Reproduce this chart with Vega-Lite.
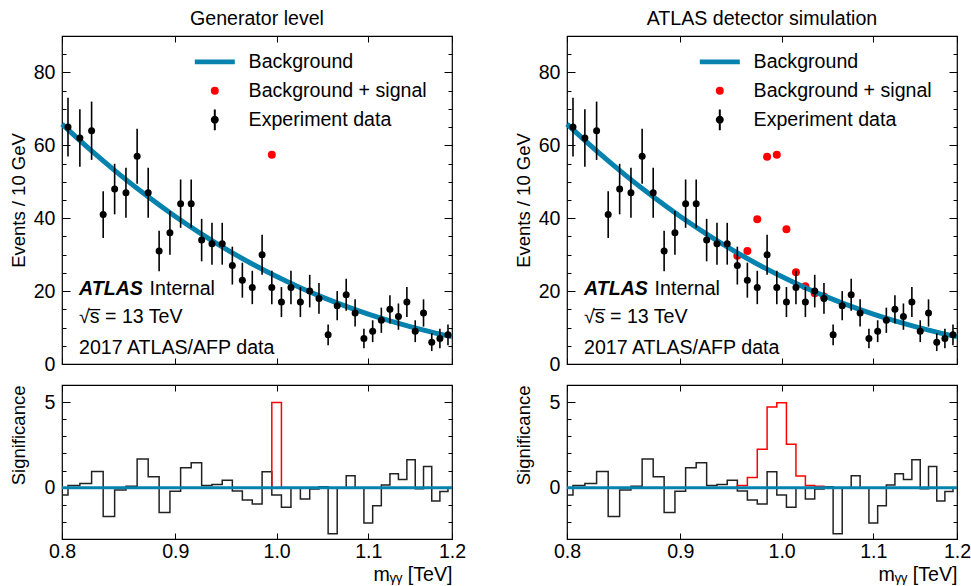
{
  "$schema": "https://vega.github.io/schema/vega-lite/v6.json",
  "padding": {"left": 8, "top": 8, "right": 0, "bottom": 2},
  "background": "white",
  "config": {
    "font": "Liberation Sans",
    "view": {"stroke": "black", "strokeWidth": 1.2},
    "axis": {"labelFontSize": 19.6, "titleFontSize": 18.5, "labelColor": "black", "titleColor": "black", "tickColor": "black", "tickWidth": 1, "domain": false, "grid": false, "titleFontWeight": "normal", "labelFlush": false, "labelOverlap": false, "labelBound": false},
    "title": {"fontSize": 19.6, "fontWeight": "normal", "color": "black", "offset": 6},
    "legend": {"labelFontSize": 19.6, "labelColor": "black", "labelFont": "Liberation Sans", "labelLimit": 400}
  },
  "datasets": {
    "obs": [
      {"x": 0.805, "n": 65, "err": 8.06, "series": "Experiment data"},
      {"x": 0.815, "n": 62, "err": 7.87, "series": "Experiment data"},
      {"x": 0.825, "n": 64, "err": 8.0, "series": "Experiment data"},
      {"x": 0.835, "n": 41, "err": 6.4, "series": "Experiment data"},
      {"x": 0.845, "n": 48, "err": 6.93, "series": "Experiment data"},
      {"x": 0.855, "n": 47, "err": 6.86, "series": "Experiment data"},
      {"x": 0.865, "n": 57, "err": 7.55, "series": "Experiment data"},
      {"x": 0.875, "n": 47, "err": 6.86, "series": "Experiment data"},
      {"x": 0.885, "n": 31, "err": 5.57, "series": "Experiment data"},
      {"x": 0.895, "n": 36, "err": 6.0, "series": "Experiment data"},
      {"x": 0.905, "n": 44, "err": 6.63, "series": "Experiment data"},
      {"x": 0.915, "n": 44, "err": 6.63, "series": "Experiment data"},
      {"x": 0.925, "n": 34, "err": 5.83, "series": "Experiment data"},
      {"x": 0.935, "n": 33, "err": 5.74, "series": "Experiment data"},
      {"x": 0.945, "n": 33, "err": 5.74, "series": "Experiment data"},
      {"x": 0.955, "n": 27, "err": 5.2, "series": "Experiment data"},
      {"x": 0.965, "n": 23, "err": 4.8, "series": "Experiment data"},
      {"x": 0.975, "n": 21, "err": 4.58, "series": "Experiment data"},
      {"x": 0.985, "n": 30, "err": 5.48, "series": "Experiment data"},
      {"x": 0.995, "n": 21, "err": 4.58, "series": "Experiment data"},
      {"x": 1.005, "n": 17, "err": 4.12, "series": "Experiment data"},
      {"x": 1.015, "n": 21, "err": 4.58, "series": "Experiment data"},
      {"x": 1.025, "n": 17, "err": 4.12, "series": "Experiment data"},
      {"x": 1.035, "n": 20, "err": 4.47, "series": "Experiment data"},
      {"x": 1.045, "n": 18, "err": 4.24, "series": "Experiment data"},
      {"x": 1.055, "n": 8, "err": 2.83, "series": "Experiment data"},
      {"x": 1.065, "n": 16, "err": 4.0, "series": "Experiment data"},
      {"x": 1.075, "n": 19, "err": 4.36, "series": "Experiment data"},
      {"x": 1.085, "n": 14, "err": 3.74, "series": "Experiment data"},
      {"x": 1.095, "n": 7, "err": 2.65, "series": "Experiment data"},
      {"x": 1.105, "n": 9, "err": 3.0, "series": "Experiment data"},
      {"x": 1.115, "n": 12, "err": 3.46, "series": "Experiment data"},
      {"x": 1.125, "n": 15, "err": 3.87, "series": "Experiment data"},
      {"x": 1.135, "n": 13, "err": 3.61, "series": "Experiment data"},
      {"x": 1.145, "n": 17, "err": 4.12, "series": "Experiment data"},
      {"x": 1.155, "n": 9, "err": 3.0, "series": "Experiment data"},
      {"x": 1.165, "n": 14, "err": 3.74, "series": "Experiment data"},
      {"x": 1.175, "n": 6, "err": 2.45, "series": "Experiment data"},
      {"x": 1.185, "n": 7, "err": 2.65, "series": "Experiment data"},
      {"x": 1.195, "n": 8, "err": 2.83, "series": "Experiment data"}
    ],
    "bkg": [
      {"x": 0.8, "n": 65.8}, {"x": 0.825, "n": 58.45}, {"x": 0.85, "n": 51.84}, {"x": 0.875, "n": 45.87},
      {"x": 0.9, "n": 40.48}, {"x": 0.925, "n": 35.65}, {"x": 0.95, "n": 31.31}, {"x": 0.975, "n": 27.44},
      {"x": 1.0, "n": 23.99}, {"x": 1.025, "n": 20.92}, {"x": 1.05, "n": 18.2}, {"x": 1.075, "n": 15.8},
      {"x": 1.1, "n": 13.68}, {"x": 1.125, "n": 11.82}, {"x": 1.15, "n": 10.19}, {"x": 1.175, "n": 8.76},
      {"x": 1.2, "n": 7.51}
    ],
    "redL": [
      {"x": 0.995, "n": 57.4, "series": "Background + signal"}
    ],
    "redR": [
      {"x": 0.955, "n": 29.7, "series": "Background + signal"},
      {"x": 0.965, "n": 31.0, "series": "Background + signal"},
      {"x": 0.975, "n": 39.7, "series": "Background + signal"},
      {"x": 0.985, "n": 56.9, "series": "Background + signal"},
      {"x": 0.995, "n": 57.4, "series": "Background + signal"},
      {"x": 1.005, "n": 37.0, "series": "Background + signal"},
      {"x": 1.015, "n": 25.2, "series": "Background + signal"},
      {"x": 1.025, "n": 21.3, "series": "Background + signal"},
      {"x": 1.035, "n": 19.4, "series": "Background + signal"},
      {"x": 1.045, "n": 18.5, "series": "Background + signal"}
    ],
    "sig": [
      {"x": 0.8, "s": -0.43}, {"x": 0.805, "s": 0.12}, {"x": 0.815, "s": 0.25}, {"x": 0.825, "s": 0.95},
      {"x": 0.835, "s": -1.69}, {"x": 0.845, "s": -0.14}, {"x": 0.855, "s": 0.08}, {"x": 0.865, "s": 1.67},
      {"x": 0.875, "s": 0.64}, {"x": 0.885, "s": -1.45}, {"x": 0.895, "s": -0.21}, {"x": 0.905, "s": 1.16},
      {"x": 0.915, "s": 1.45}, {"x": 0.925, "s": 0.12}, {"x": 0.935, "s": 0.19}, {"x": 0.945, "s": 0.43},
      {"x": 0.955, "s": -0.19}, {"x": 0.965, "s": -0.72}, {"x": 0.975, "s": -0.95}, {"x": 0.985, "s": 0.93},
      {"x": 0.995, "s": -0.43}, {"x": 1.005, "s": -1.14}, {"x": 1.015, "s": 0.0}, {"x": 1.025, "s": -0.66},
      {"x": 1.035, "s": -0.08}, {"x": 1.045, "s": 0.05}, {"x": 1.055, "s": -2.69}, {"x": 1.065, "s": 0.0},
      {"x": 1.075, "s": 0.7}, {"x": 1.085, "s": 0.0}, {"x": 1.095, "s": -2.07}, {"x": 1.105, "s": -1.05},
      {"x": 1.115, "s": 0.16}, {"x": 1.125, "s": 0.81}, {"x": 1.135, "s": 0.47}, {"x": 1.145, "s": 1.63},
      {"x": 1.155, "s": -0.06}, {"x": 1.165, "s": 1.24}, {"x": 1.175, "s": -0.78}, {"x": 1.185, "s": -0.23},
      {"x": 1.195, "s": 0.0}, {"x": 1.2, "s": 0.0}
    ],
    "sigRedL": [
      {"x": 0.985, "s": 0.0}, {"x": 0.995, "s": 4.98}, {"x": 1.005, "s": 0.0}, {"x": 1.015, "s": 0.0}
    ],
    "sigRedR": [
      {"x": 0.945, "s": 0.0}, {"x": 0.955, "s": 0.12}, {"x": 0.965, "s": 0.6}, {"x": 0.975, "s": 2.25},
      {"x": 0.985, "s": 4.71}, {"x": 0.995, "s": 4.96}, {"x": 1.005, "s": 2.54}, {"x": 1.015, "s": 0.68},
      {"x": 1.025, "s": 0.12}, {"x": 1.035, "s": 0.08}, {"x": 1.045, "s": 0.0}, {"x": 1.055, "s": 0.0}
    ],
    "one": [{}]
  },
  "spacing": 46,
  "resolve": {"scale": {"color": "independent", "shape": "independent"}, "legend": {"color": "independent", "shape": "independent"}},
  "hconcat": [
    {
      "spacing": 21,
      "bounds": "flush",
      "resolve": {"scale": {"color": "independent", "shape": "independent"}, "legend": {"color": "independent", "shape": "independent"}},
      "vconcat": [
        {
          "width": 390, "height": 328,
          "title": {"text": "Generator level"},
          "layer": [
            {
              "data": {"name": "redL"},
              "mark": {"type": "point", "filled": true, "size": 64, "opacity": 1},
              "encoding": {
                "x": {"field": "x", "type": "quantitative", "scale": {"type": "log", "domain": [0.8, 1.2], "nice": false, "zero": false},
                      "axis": {"orient": "bottom", "values": [0.8, 0.9, 1.0, 1.1, 1.2], "labels": false, "title": null, "tickSize": -6}},
                "y": {"field": "n", "type": "quantitative", "scale": {"domain": [0, 90], "nice": false},
                      "axis": {"orient": "left", "values": [0,5,10,15,20,25,30,35,40,45,50,55,60,65,70,75,80,85],
                               "labelExpr": "datum.value % 20 === 0 ? datum.label : ''",
                               "tickSize": {"condition": {"test": "datum.value % 20 === 0", "value": -8}, "value": -4},
                               "labelPadding": 15,
                               "title": "Events / 10 GeV", "titleX": -44, "titleBaseline": "middle"}},
                "color": {"field": "series", "type": "nominal",
                          "scale": {"domain": ["Background", "Background + signal", "Experiment data"], "range": ["#0582ad", "#ff0000", "#000000"]},
                          "legend": {"orient": "none", "legendX": 143, "legendY": 16, "title": null, "symbolSize": 64, "rowPadding": 8, "labelOffset": 24}},
                "shape": {"field": "series", "type": "nominal",
                          "scale": {"domain": ["Background", "Background + signal", "Experiment data"],
                                    "range": ["M-5,-0.6H5V0.6H-5Z", "circle", "M-0.25,-2.6H0.25V2.6H-0.25Z M1,0A1,1,0,1,1,-1,0A1,1,0,1,1,1,0Z"]},
                          "legend": {"orient": "none", "legendX": 143, "legendY": 16, "title": null, "symbolSize": 64, "rowPadding": 8, "labelOffset": 24}}
              }
            },
            {
              "data": {"name": "bkg"},
              "mark": {"type": "line", "color": "#0582ad", "strokeWidth": 5, "interpolate": "monotone"},
              "encoding": {
                "x": {"field": "x", "type": "quantitative", "axis": {"orient": "top", "values": [0.8, 0.9, 1.0, 1.1, 1.2], "labels": false, "title": null, "tickSize": -6}},
                "y": {"field": "n", "type": "quantitative", "axis": {"orient": "right", "values": [5,10,15,20,25,30,35,40,45,50,55,60,65,70,75,80,85], "labels": false, "title": null,
                      "tickSize": {"condition": {"test": "datum.value % 20 === 0", "value": -8}, "value": -4}}}
              }
            },
            {
              "data": {"name": "obs"},
              "mark": {"type": "errorbar", "color": "black", "thickness": 1.6},
              "encoding": {
                "x": {"field": "x", "type": "quantitative", "axis": null},
                "y": {"field": "n", "type": "quantitative", "axis": null},
                "yError": {"field": "err"}
              }
            },
            {
              "data": {"name": "obs"},
              "mark": {"type": "point", "filled": true, "size": 49, "opacity": 1, "shape": "circle"},
              "encoding": {
                "x": {"field": "x", "type": "quantitative", "axis": null},
                "y": {"field": "n", "type": "quantitative", "axis": null},
                "color": {"field": "series", "type": "nominal"}
              }
            },
            {
              "data": {"name": "one"},
              "mark": {"type": "text", "text": "ATLAS", "fontStyle": "italic", "fontWeight": "bold", "fontSize": 19.6, "align": "left", "baseline": "alphabetic", "color": "black"},
              "encoding": {"x": {"datum": 0.8143, "type": "quantitative", "axis": null}, "y": {"datum": 18.93, "type": "quantitative", "axis": null}}
            },
            {
              "data": {"name": "one"},
              "mark": {"type": "text", "text": "Internal", "fontSize": 19.6, "align": "left", "baseline": "alphabetic", "color": "black"},
              "encoding": {"x": {"datum": 0.8763, "type": "quantitative", "axis": null}, "y": {"datum": 18.93, "type": "quantitative", "axis": null}}
            },
            {
              "data": {"name": "one"},
              "mark": {"type": "text", "text": "√s̅ = 13 TeV", "fontSize": 19.6, "align": "left", "baseline": "alphabetic", "color": "black"},
              "encoding": {"x": {"datum": 0.8143, "type": "quantitative", "axis": null}, "y": {"datum": 11.33, "type": "quantitative", "axis": null}}
            },
            {
              "data": {"name": "one"},
              "mark": {"type": "text", "text": "2017 ATLAS/AFP data", "fontSize": 19.6, "align": "left", "baseline": "alphabetic", "color": "black"},
              "encoding": {"x": {"datum": 0.8143, "type": "quantitative", "axis": null}, "y": {"datum": 2.63, "type": "quantitative", "axis": null}}
            }
          ]
        },
        {
          "width": 390, "height": 154,
          "layer": [
            {
              "data": {"name": "sig"},
              "mark": {"type": "line", "color": "#222222", "strokeWidth": 1.5, "interpolate": "step-after"},
              "encoding": {
                "x": {"field": "x", "type": "quantitative", "scale": {"type": "log", "domain": [0.8, 1.2], "nice": false, "zero": false},
                      "axis": {"orient": "bottom", "values": [0.8, 0.9, 1.0, 1.1, 1.2], "format": ".1f", "tickSize": -6, "labelPadding": 9,
                               "title": "mᵧᵧ [TeV]", "titleAnchor": "end", "titleAlign": "right", "titleFontSize": 19.6, "titlePadding": 5}},
                "y": {"field": "s", "type": "quantitative", "scale": {"domain": [-3, 6], "nice": false, "zero": false},
                      "axis": {"orient": "left", "values": [-2,-1,0,1,2,3,4,5],
                               "labelExpr": "datum.value % 5 === 0 ? datum.label : ''",
                               "tickSize": {"condition": {"test": "datum.value % 5 === 0", "value": -8}, "value": -4},
                               "labelPadding": 15,
                               "title": "Significance", "titleX": -44, "titleBaseline": "middle", "titleAnchor": "end"}}
              }
            },
            {
              "data": {"name": "sigRedL"},
              "mark": {"type": "line", "color": "#ff0000", "strokeWidth": 1.5, "interpolate": "step-after"},
              "encoding": {
                "x": {"field": "x", "type": "quantitative", "axis": {"orient": "top", "values": [0.8, 0.9, 1.0, 1.1, 1.2], "labels": false, "title": null, "tickSize": -6}},
                "y": {"field": "s", "type": "quantitative", "axis": {"orient": "right", "values": [-2,-1,0,1,2,3,4,5], "labels": false, "title": null,
                      "tickSize": {"condition": {"test": "datum.value % 5 === 0", "value": -8}, "value": -4}}}
              }
            },
            {
              "data": {"name": "one"},
              "mark": {"type": "rule", "color": "#0582ad", "strokeWidth": 3},
              "encoding": {"y": {"datum": 0, "type": "quantitative", "axis": null}}
            }
          ]
        }
      ]
    },
    {
      "spacing": 21,
      "bounds": "flush",
      "resolve": {"scale": {"color": "independent", "shape": "independent"}, "legend": {"color": "independent", "shape": "independent"}},
      "vconcat": [
        {
          "width": 390, "height": 328,
          "title": {"text": "ATLAS detector simulation"},
          "layer": [
            {
              "data": {"name": "redR"},
              "mark": {"type": "point", "filled": true, "size": 64, "opacity": 1},
              "encoding": {
                "x": {"field": "x", "type": "quantitative", "scale": {"type": "log", "domain": [0.8, 1.2], "nice": false, "zero": false},
                      "axis": {"orient": "bottom", "values": [0.8, 0.9, 1.0, 1.1, 1.2], "labels": false, "title": null, "tickSize": -6}},
                "y": {"field": "n", "type": "quantitative", "scale": {"domain": [0, 90], "nice": false},
                      "axis": {"orient": "left", "values": [0,5,10,15,20,25,30,35,40,45,50,55,60,65,70,75,80,85],
                               "labelExpr": "datum.value % 20 === 0 ? datum.label : ''",
                               "tickSize": {"condition": {"test": "datum.value % 20 === 0", "value": -8}, "value": -4},
                               "labelPadding": 15,
                               "title": "Events / 10 GeV", "titleX": -44, "titleBaseline": "middle"}},
                "color": {"field": "series", "type": "nominal",
                          "scale": {"domain": ["Background", "Background + signal", "Experiment data"], "range": ["#0582ad", "#ff0000", "#000000"]},
                          "legend": {"orient": "none", "legendX": 143, "legendY": 16, "title": null, "symbolSize": 64, "rowPadding": 8, "labelOffset": 24}},
                "shape": {"field": "series", "type": "nominal",
                          "scale": {"domain": ["Background", "Background + signal", "Experiment data"],
                                    "range": ["M-5,-0.6H5V0.6H-5Z", "circle", "M-0.25,-2.6H0.25V2.6H-0.25Z M1,0A1,1,0,1,1,-1,0A1,1,0,1,1,1,0Z"]},
                          "legend": {"orient": "none", "legendX": 143, "legendY": 16, "title": null, "symbolSize": 64, "rowPadding": 8, "labelOffset": 24}}
              }
            },
            {
              "data": {"name": "bkg"},
              "mark": {"type": "line", "color": "#0582ad", "strokeWidth": 5, "interpolate": "monotone"},
              "encoding": {
                "x": {"field": "x", "type": "quantitative", "axis": {"orient": "top", "values": [0.8, 0.9, 1.0, 1.1, 1.2], "labels": false, "title": null, "tickSize": -6}},
                "y": {"field": "n", "type": "quantitative", "axis": {"orient": "right", "values": [5,10,15,20,25,30,35,40,45,50,55,60,65,70,75,80,85], "labels": false, "title": null,
                      "tickSize": {"condition": {"test": "datum.value % 20 === 0", "value": -8}, "value": -4}}}
              }
            },
            {
              "data": {"name": "obs"},
              "mark": {"type": "errorbar", "color": "black", "thickness": 1.6},
              "encoding": {
                "x": {"field": "x", "type": "quantitative", "axis": null},
                "y": {"field": "n", "type": "quantitative", "axis": null},
                "yError": {"field": "err"}
              }
            },
            {
              "data": {"name": "obs"},
              "mark": {"type": "point", "filled": true, "size": 49, "opacity": 1, "shape": "circle"},
              "encoding": {
                "x": {"field": "x", "type": "quantitative", "axis": null},
                "y": {"field": "n", "type": "quantitative", "axis": null},
                "color": {"field": "series", "type": "nominal"}
              }
            },
            {
              "data": {"name": "one"},
              "mark": {"type": "text", "text": "ATLAS", "fontStyle": "italic", "fontWeight": "bold", "fontSize": 19.6, "align": "left", "baseline": "alphabetic", "color": "black"},
              "encoding": {"x": {"datum": 0.8143, "type": "quantitative", "axis": null}, "y": {"datum": 18.93, "type": "quantitative", "axis": null}}
            },
            {
              "data": {"name": "one"},
              "mark": {"type": "text", "text": "Internal", "fontSize": 19.6, "align": "left", "baseline": "alphabetic", "color": "black"},
              "encoding": {"x": {"datum": 0.8763, "type": "quantitative", "axis": null}, "y": {"datum": 18.93, "type": "quantitative", "axis": null}}
            },
            {
              "data": {"name": "one"},
              "mark": {"type": "text", "text": "√s̅ = 13 TeV", "fontSize": 19.6, "align": "left", "baseline": "alphabetic", "color": "black"},
              "encoding": {"x": {"datum": 0.8143, "type": "quantitative", "axis": null}, "y": {"datum": 11.33, "type": "quantitative", "axis": null}}
            },
            {
              "data": {"name": "one"},
              "mark": {"type": "text", "text": "2017 ATLAS/AFP data", "fontSize": 19.6, "align": "left", "baseline": "alphabetic", "color": "black"},
              "encoding": {"x": {"datum": 0.8143, "type": "quantitative", "axis": null}, "y": {"datum": 2.63, "type": "quantitative", "axis": null}}
            }
          ]
        },
        {
          "width": 390, "height": 154,
          "layer": [
            {
              "data": {"name": "sig"},
              "mark": {"type": "line", "color": "#222222", "strokeWidth": 1.5, "interpolate": "step-after"},
              "encoding": {
                "x": {"field": "x", "type": "quantitative", "scale": {"type": "log", "domain": [0.8, 1.2], "nice": false, "zero": false},
                      "axis": {"orient": "bottom", "values": [0.8, 0.9, 1.0, 1.1, 1.2], "format": ".1f", "tickSize": -6, "labelPadding": 9,
                               "title": "mᵧᵧ [TeV]", "titleAnchor": "end", "titleAlign": "right", "titleFontSize": 19.6, "titlePadding": 5}},
                "y": {"field": "s", "type": "quantitative", "scale": {"domain": [-3, 6], "nice": false, "zero": false},
                      "axis": {"orient": "left", "values": [-2,-1,0,1,2,3,4,5],
                               "labelExpr": "datum.value % 5 === 0 ? datum.label : ''",
                               "tickSize": {"condition": {"test": "datum.value % 5 === 0", "value": -8}, "value": -4},
                               "labelPadding": 15,
                               "title": "Significance", "titleX": -44, "titleBaseline": "middle", "titleAnchor": "end"}}
              }
            },
            {
              "data": {"name": "sigRedR"},
              "mark": {"type": "line", "color": "#ff0000", "strokeWidth": 1.5, "interpolate": "step-after"},
              "encoding": {
                "x": {"field": "x", "type": "quantitative", "axis": {"orient": "top", "values": [0.8, 0.9, 1.0, 1.1, 1.2], "labels": false, "title": null, "tickSize": -6}},
                "y": {"field": "s", "type": "quantitative", "axis": {"orient": "right", "values": [-2,-1,0,1,2,3,4,5], "labels": false, "title": null,
                      "tickSize": {"condition": {"test": "datum.value % 5 === 0", "value": -8}, "value": -4}}}
              }
            },
            {
              "data": {"name": "one"},
              "mark": {"type": "rule", "color": "#0582ad", "strokeWidth": 3},
              "encoding": {"y": {"datum": 0, "type": "quantitative", "axis": null}}
            }
          ]
        }
      ]
    }
  ]
}
